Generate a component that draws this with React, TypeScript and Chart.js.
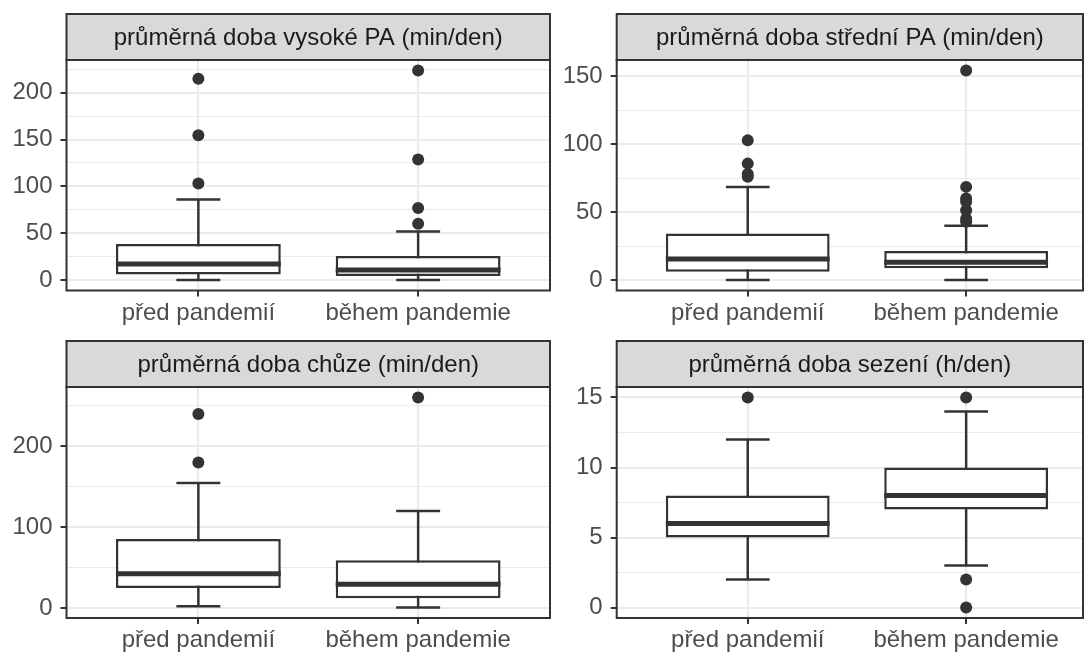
import React, { useEffect, useRef } from 'react';
import { Chart, registerables } from 'chart.js';

Chart.register(...registerables);

// ---------------- DATA ----------------
const categories = ['před pandemií', 'během pandemie'];
const catPositions = [1, 2];

const panelTitles = [
  'průměrná doba vysoké PA (min/den)',
  'průměrná doba střední PA (min/den)',
  'průměrná doba chůze (min/den)',
  'průměrná doba sezení (h/den)',
];

// vysoké PA
const vpaLower = [0, 0];
const vpaQ1 = [6, 4.3];
const vpaMedian = [17, 10.7];
const vpaQ3 = [38.4, 25.6];
const vpaUpper = [86, 51.9];
const vpaOutPred = [103, 154.5, 215];
const vpaOutBehem = [60, 77, 128.6, 223.8];
const vpaTicks = [0, 50, 100, 150, 200];

// střední PA
const spaLower = [0, 0];
const spaQ1 = [6.1, 8.6];
const spaMedian = [15.4, 13];
const spaQ3 = [34.3, 21.3];
const spaUpper = [68.5, 39.9];
const spaOutPred = [76, 78, 85.6, 102.7];
const spaOutBehem = [42.8, 45, 51.4, 57.5, 60, 68.5, 154.1];
const spaTicks = [0, 50, 100, 150];

// chůze
const walkLower = [2.5, 1];
const walkQ1 = [25.2, 12.3];
const walkMedian = [42.8, 29.6];
const walkQ3 = [85.7, 59.3];
const walkUpper = [154.8, 120.2];
const walkOutPred = [180.2, 240];
const walkOutBehem = [260.5];
const walkTicks = [0, 100, 200];

// sezení
const sitLower = [2, 3];
const sitQ1 = [5, 7];
const sitMedian = [6, 8];
const sitQ3 = [8, 10];
const sitUpper = [12, 14];
const sitOutPred = [15];
const sitOutBehem = [0, 2, 15];
const sitTicks = [0, 5, 10, 15];

type PanelData = {
  title: string;
  lower: number[];
  q1: number[];
  median: number[];
  q3: number[];
  upper: number[];
  outliers: number[][];
  ticks: number[];
};

const panels: PanelData[] = [
  { title: panelTitles[0], lower: vpaLower, q1: vpaQ1, median: vpaMedian, q3: vpaQ3, upper: vpaUpper, outliers: [vpaOutPred, vpaOutBehem], ticks: vpaTicks },
  { title: panelTitles[1], lower: spaLower, q1: spaQ1, median: spaMedian, q3: spaQ3, upper: spaUpper, outliers: [spaOutPred, spaOutBehem], ticks: spaTicks },
  { title: panelTitles[2], lower: walkLower, q1: walkQ1, median: walkMedian, q3: walkQ3, upper: walkUpper, outliers: [walkOutPred, walkOutBehem], ticks: walkTicks },
  { title: panelTitles[3], lower: sitLower, q1: sitQ1, median: sitMedian, q3: sitQ3, upper: sitUpper, outliers: [sitOutPred, sitOutBehem], ticks: sitTicks },
];

// ---------------- LAYOUT / STYLE ----------------
const layouts = [
  { left: 0, top: 0, width: 556, height: 326, yAxisWidth: 66.5, xAxisHeight: 35.5, padTop: 60, padRight: 4.5, stripTop: 14, xMax: 2.6 },
  { left: 556, top: 0, width: 533, height: 326, yAxisWidth: 60.7, xAxisHeight: 35.5, padTop: 60, padRight: 1, stripTop: 14, xMax: 2.535 },
  { left: 0, top: 326, width: 556, height: 327, yAxisWidth: 66.5, xAxisHeight: 35, padTop: 61, padRight: 4.5, stripTop: 15, xMax: 2.6 },
  { left: 556, top: 326, width: 533, height: 327, yAxisWidth: 60.7, xAxisHeight: 35, padTop: 61, padRight: 1, stripTop: 15, xMax: 2.535 },
];

const BOX_WIDTH = 0.75;
const CAP_WIDTH = 0.2;
const DARK = '#333333';
const GRID = '#EBEBEB';
const FONT = '"Liberation Sans", Arial, Helvetica, sans-serif';

Chart.defaults.font.family = FONT;
Chart.defaults.font.size = 24;

const stripPlugin = {
  id: 'facetStrip',
  afterDraw(chart: any, _args: any, opts: any) {
    const { ctx, chartArea: a } = chart;
    ctx.save();
    ctx.strokeStyle = DARK;
    ctx.lineWidth = 2;
    ctx.strokeRect(a.left, a.top, a.right - a.left, a.bottom - a.top);
    const top = opts.top;
    const h = a.top - top;
    ctx.fillStyle = '#D9D9D9';
    ctx.fillRect(a.left, top, a.right - a.left, h);
    ctx.strokeRect(a.left, top, a.right - a.left, h);
    ctx.fillStyle = '#1A1A1A';
    ctx.font = `24px ${FONT}`;
    ctx.textAlign = 'center';
    ctx.textBaseline = 'middle';
    ctx.fillText(opts.text, (a.left + a.right) / 2, top + h / 2 + 1);
    ctx.restore();
  },
};

function segments(pairs: { x0: number; x1: number; y0: number; y1: number }[]) {
  const out: any[] = [];
  pairs.forEach((p, i) => {
    if (i > 0) out.push({ x: (out[out.length - 1].x + p.x0) / 2, y: null });
    out.push({ x: p.x0, y: p.y0 });
    out.push({ x: p.x1, y: p.y1 });
  });
  return out;
}

function Panel({ data, layout }: { data: PanelData; layout: typeof layouts[number] }) {
  const ref = useRef<HTMLCanvasElement>(null);
  useEffect(() => {
    if (!ref.current) return;
    const allVals = [...data.lower, ...data.upper, ...data.outliers.flat()];
    const dMin = Math.min(...allVals);
    const dMax = Math.max(...allVals);
    const expand = (dMax - dMin) * 0.05;
    const yMin = dMin - expand;
    const yMax = dMax + expand;
    const step = data.ticks[1] - data.ticks[0];
    const minor: number[] = [];
    for (let v = data.ticks[0] - step / 2; v <= yMax; v += step) {
      if (v >= yMin) minor.push(v);
    }
    const allTicks = [...data.ticks, ...minor].sort((a, b) => a - b);
    const isMajor = (v: number) => data.ticks.includes(v);

    const whiskers = segments(catPositions.map((x, i) => ({ x0: x, x1: x, y0: data.lower[i], y1: data.upper[i] })));
    const caps = segments(
      catPositions.flatMap((x, i) => [
        { x0: x - CAP_WIDTH / 2, x1: x + CAP_WIDTH / 2, y0: data.lower[i], y1: data.lower[i] },
        { x0: x - CAP_WIDTH / 2, x1: x + CAP_WIDTH / 2, y0: data.upper[i], y1: data.upper[i] },
      ])
    );
    const medians = segments(
      catPositions.map((x, i) => ({ x0: x - BOX_WIDTH / 2, x1: x + BOX_WIDTH / 2, y0: data.median[i], y1: data.median[i] }))
    );
    const boxes = catPositions.map((x, i) => ({ x, y: [data.q1[i], data.q3[i]] }));
    const outliers = catPositions.flatMap((x, i) => data.outliers[i].map((v) => ({ x, y: v })));

    const lineDs = (d: any[], width: number, order: number) => ({
      type: 'line' as const,
      data: d,
      borderColor: DARK,
      borderWidth: width,
      pointRadius: 0,
      pointHoverRadius: 0,
      spanGaps: false,
      tension: 0,
      fill: false,
      order,
    });

    const chart = new Chart(ref.current, {
      type: 'bar',
      data: {
        datasets: [
          {
            type: 'scatter' as const,
            data: outliers,
            backgroundColor: DARK,
            borderWidth: 0,
            pointRadius: 6,
            pointHoverRadius: 6,
            order: 0,
          } as any,
          lineDs(medians, 5, 1),
          {
            type: 'bar' as const,
            data: boxes,
            backgroundColor: '#FFFFFF',
            borderColor: DARK,
            borderWidth: 2.5,
            borderSkipped: false,
            barPercentage: BOX_WIDTH,
            categoryPercentage: 1,
            order: 2,
          } as any,
          lineDs(whiskers, 2.5, 3),
          lineDs(caps, 2.5, 3),
        ],
      },
      options: {
        responsive: false,
        animation: false,
        events: [],
        layout: { padding: { top: layout.padTop, right: layout.padRight, bottom: 0, left: 0 } },
        plugins: {
          legend: { display: false },
          tooltip: { enabled: false },
          facetStrip: { top: layout.stripTop, text: data.title },
        } as any,
        scales: {
          x: {
            type: 'linear',
            min: 0.4,
            max: layout.xMax,
            offset: false,
            afterBuildTicks: (s: any) => {
              s.ticks = catPositions.map((v) => ({ value: v }));
            },
            afterFit: (s: any) => {
              s.height = layout.xAxisHeight;
            },
            grid: {
              offset: false,
              color: GRID,
              lineWidth: 2,
              tickColor: DARK,
              tickWidth: 2,
              tickLength: 6,
              drawTicks: true,
            },
            border: { display: false },
            ticks: {
              autoSkip: false,
              maxRotation: 0,
              minRotation: 0,
              padding: 2,
              color: '#4D4D4D',
              font: { size: 24, family: FONT },
              callback: (v: any) => {
                const idx = catPositions.indexOf(Number(v));
                return idx >= 0 ? categories[idx] : '';
              },
            },
          } as any,
          y: {
            type: 'linear',
            min: yMin,
            max: yMax,
            afterBuildTicks: (s: any) => {
              s.ticks = allTicks.map((v) => ({ value: v }));
            },
            afterFit: (s: any) => {
              s.width = layout.yAxisWidth;
            },
            grid: {
              color: GRID,
              lineWidth: (c: any) => (c.tick && isMajor(c.tick.value) ? 2 : 1),
              tickColor: (c: any) => (c.tick && isMajor(c.tick.value) ? DARK : 'rgba(0,0,0,0)'),
              tickWidth: 2,
              tickLength: 6,
              drawTicks: true,
            },
            border: { display: false },
            ticks: {
              autoSkip: false,
              padding: 8,
              color: '#4D4D4D',
              font: { size: 24, family: FONT },
              callback: (v: any) => (isMajor(Number(v)) ? String(v) : ''),
            },
          } as any,
        },
      },
      plugins: [stripPlugin],
    });
    return () => chart.destroy();
  }, [data, layout]);

  return (
    <canvas
      ref={ref}
      width={layout.width}
      height={layout.height}
      style={{ position: 'absolute', left: layout.left, top: layout.top, width: layout.width, height: layout.height }}
    />
  );
}

export default function App() {
  return (
    <div style={{ position: 'fixed', left: 0, top: 0, width: 1089, height: 653, background: '#FFFFFF', overflow: 'hidden' }}>
      {panels.map((p, i) => (
        <Panel key={i} data={p} layout={layouts[i]} />
      ))}
    </div>
  );
}
